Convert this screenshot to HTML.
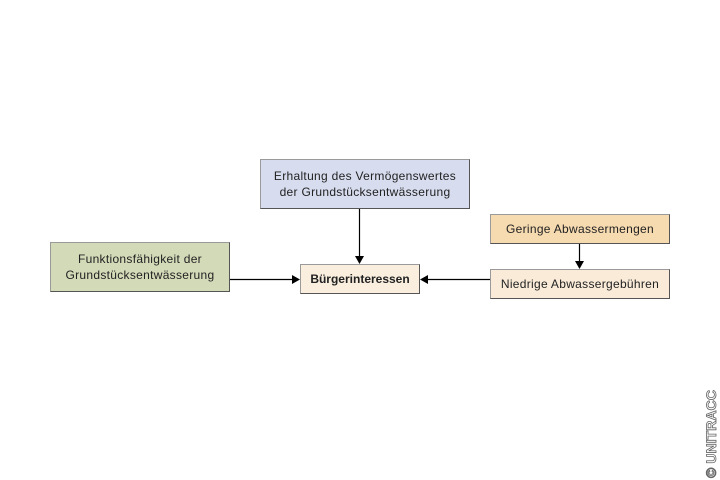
<!DOCTYPE html>
<html><head><style>
body{margin:0;width:720px;height:480px;background:#fff;position:relative;overflow:hidden;font-family:"Liberation Sans",sans-serif;}
.b{position:absolute;box-sizing:border-box;border:1px solid #9a9a9a;border-right-color:#555;border-bottom-color:#555;display:flex;align-items:center;justify-content:center;text-align:center;font-size:12px;line-height:16px;color:#222;letter-spacing:0.3px;}
</style></head><body>
<div class="b" style="left:260px;top:159px;width:210px;height:50px;background:#d7ddef">Erhaltung des Vermögenswertes<br>der Grundstücksentwässerung</div>
<div class="b" style="left:50px;top:242px;width:180px;height:50px;background:#d3dab8">Funktionsfähigkeit der<br>Grundstücksentwässerung</div>
<div class="b" style="left:300px;top:264px;width:120px;height:30px;background:#faefdf;font-weight:bold;letter-spacing:0">Bürgerinteressen</div>
<div class="b" style="left:490px;top:214px;width:180px;height:30px;background:#f6dab0">Geringe Abwassermengen</div>
<div class="b" style="left:490px;top:269px;width:180px;height:30px;background:#f9ebd8">Niedrige Abwassergebühren</div>
<svg width="720" height="480" style="position:absolute;left:0;top:0">
<g stroke="#000" stroke-width="1.2" fill="none">
<line x1="359.5" y1="209" x2="359.5" y2="256"/>
<line x1="230" y1="279.5" x2="292" y2="279.5"/>
<line x1="490" y1="279.5" x2="428" y2="279.5"/>
<line x1="579.5" y1="244" x2="579.5" y2="261"/>
</g>
<g fill="#000">
<polygon points="355,256 364,256 359.5,264"/>
<polygon points="292,275 292,284 300,279.5"/>
<polygon points="428,275 428,284 420,279.5"/>
<polygon points="575,261 584,261 579.5,269"/>
</g>
<text transform="translate(716,478) rotate(-90)" font-family="Liberation Sans,sans-serif" font-size="14" font-weight="bold" fill="#fff" stroke="#666" stroke-width="0.8" textLength="88">© UNITRACC</text>
</svg>
</body></html>
